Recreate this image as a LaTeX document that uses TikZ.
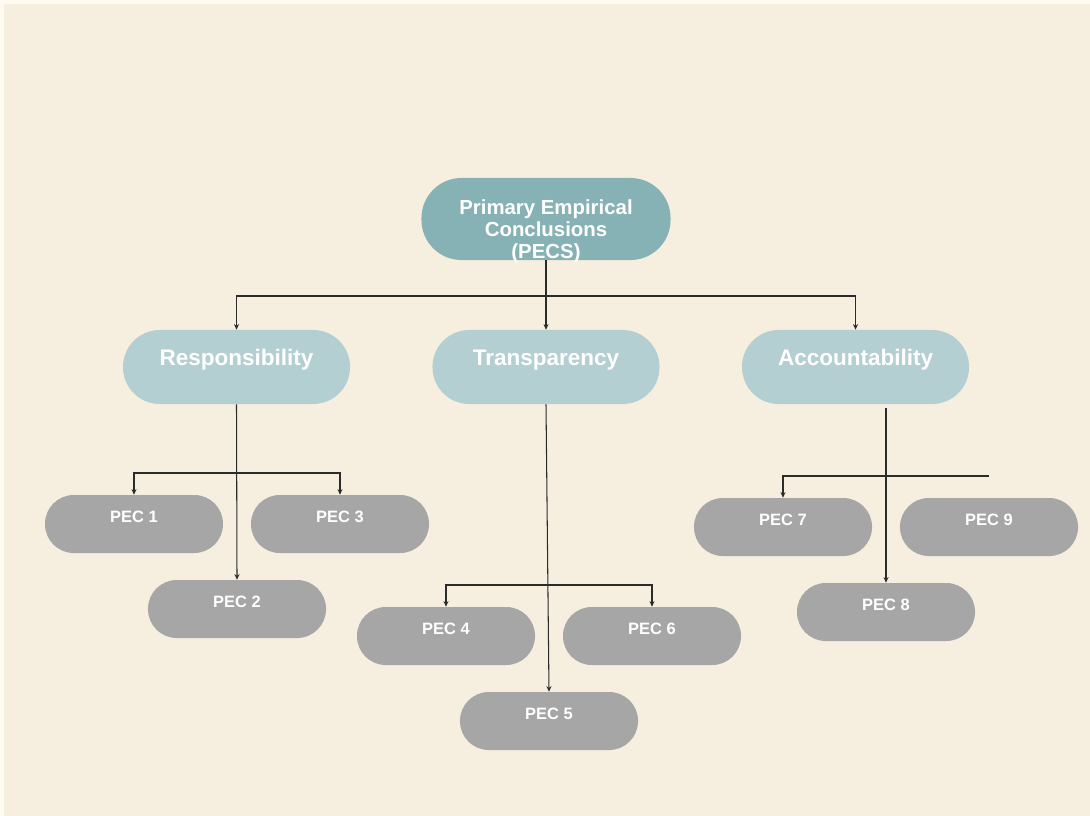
\documentclass[tikz,border=0pt]{standalone}
\usepackage{fontspec}
\setmainfont{Liberation Sans}
\usepackage{xcolor}
\usepackage{tikz}
\usetikzlibrary{arrows.meta}

\definecolor{pagewhite}{HTML}{FFFBF0}
\definecolor{paper}{HTML}{F6EFE0}
\definecolor{rootteal}{HTML}{86B2B5}
\definecolor{pillarblue}{HTML}{B4CFD1}
\definecolor{pecgray}{HTML}{A6A6A6}
\definecolor{linkgray}{HTML}{2B2B2B}

\tikzset{
    rootbox/.style={fill=rootteal, rounded corners=1cm, inner sep=0pt,
        minimum width=6.225cm, minimum height=2.05cm},
    pillar/.style={fill=pillarblue, rounded corners=0.92cm, inner sep=0pt,
        minimum width=5.675cm, minimum height=1.85cm, text=white,
        font=\fontsize{16}{19}\selectfont\bfseries,
        text height=11.4pt, text depth=13.4pt},
    pecbox/.style={fill=pecgray, rounded corners=0.72cm, inner sep=0pt,
        minimum width=4.45cm, minimum height=1.45cm, text=white,
        font=\fontsize{11.7}{14}\selectfont\bfseries,
        text height=8.3pt, text depth=10.1pt},
    link/.style={draw=linkgray, line width=0.75pt, -{Stealth[length=4pt,width=3.6pt]}},
    plain/.style={draw=linkgray, line width=0.75pt}
}

\begin{document}
\begin{tikzpicture}[x=0.025cm, y=-0.025cm]
    \useasboundingbox (0,0) rectangle (1090,815);
    \fill[pagewhite] (-5,-5) rectangle (1095,820);
    \fill[paper] (4,4) rectangle (1095,820);

    \node[rootbox, label={[text=white, align=center, yshift=-8.4pt,
        font=\fontsize{14.5}{15.6}\selectfont\bfseries]center:Primary Empirical\\Conclusions\\(PECS)}]
        (pecs) at (546,219) {};

    \node[pillar] (res) at (236.5,367) {Responsibility};
    \node[pillar] (tra) at (546,367) {Transparency};
    \node[pillar] (acc) at (855.5,367) {Accountability};

    \node[pecbox] (pec1) at (134,524) {PEC 1};
    \node[pecbox] (pec2) at (237,609) {PEC 2};
    \node[pecbox] (pec3) at (340,524) {PEC 3};
    \node[pecbox] (pec4) at (446,636) {PEC 4};
    \node[pecbox] (pec5) at (549,721) {PEC 5};
    \node[pecbox] (pec6) at (652,636) {PEC 6};
    \node[pecbox] (pec7) at (783,527) {PEC 7};
    \node[pecbox] (pec8) at (886,612) {PEC 8};
    \node[pecbox] (pec9) at (989,527) {PEC 9};

    \coordinate (split) at (546,296);
    \coordinate (rsplit) at (236.5,473);
    \coordinate (tsplit) at (547.5,585);
    \coordinate (asrc) at (886,408);
    \coordinate (asplit) at (886,476);

    \draw[link] (pecs.south) -- (tra.north);
    \draw[link] (split) -| (res.north);
    \draw[link] (split) -| (acc.north);

    \draw[link] (res.south) -- (pec2.north);
    \draw[link] (rsplit) -| (pec1.north);
    \draw[link] (rsplit) -| (pec3.north);

    \draw[link] (tra.south) -- (pec5.north);
    \draw[link] (tsplit) -| (pec4.north);
    \draw[link] (tsplit) -| (pec6.north);

    \draw[link] (asrc) -- (pec8.north);
    \draw[link] (asplit) -| (pec7.north);
    \draw[plain] (asplit) -- (asplit -| pec9.north);
\end{tikzpicture}
\end{document}
